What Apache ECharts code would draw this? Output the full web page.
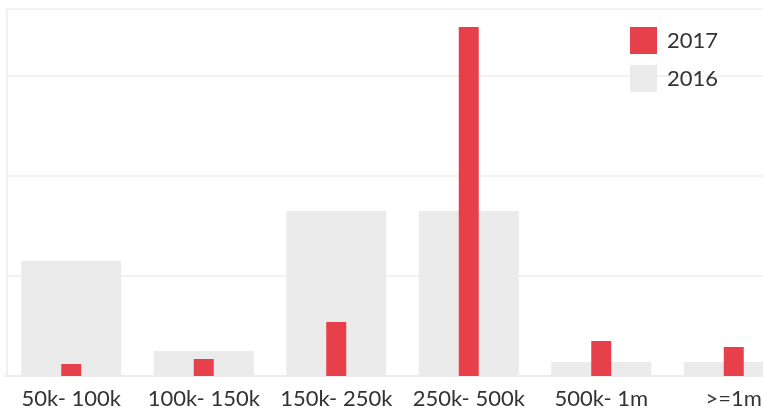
<!DOCTYPE html>
<html>
<head>
<meta charset="utf-8">
<script src="https://cdn.jsdelivr.net/npm/echarts@6/dist/echarts.min.js"></script>
<style>
  html, body { margin: 0; padding: 0; background: #fff; }
  #chart { width: 763px; height: 414px; }
</style>
</head>
<body>
<div id="chart"></div>
<script>
var categories = ['50k- 100k', '100k- 150k', '150k- 250k', '250k- 500k', '500k- 1m', '>=1m'];
var values2016 = [23, 5, 33, 33, 2.8, 2.8];
var values2017 = [2.4, 3.4, 10.8, 69.8, 7, 5.8];

var myChart = echarts.init(document.getElementById('chart'));
var option = {
    animation: false,
    textStyle: { fontFamily: 'Lato' },
    legend: {
        data: ['2017', '2016'],
        orient: 'vertical',
        left: 630,
        top: 27,
        padding: 0,
        icon: 'rect',
        itemWidth: 27,
        itemHeight: 27,
        itemGap: 11,
        itemStyle: { borderWidth: 0 },
        textStyle: { fontSize: 22, color: '#333', fontFamily: 'Lato', padding: [0, 0, 0, 5] }
    },
    grid: {
        left: 5,
        top: 9,
        width: 795,
        bottom: 38,
        containLabel: false,
        outerBoundsMode: 'none'
    },
    xAxis: [
        {
            type: 'category',
            data: categories,
            axisLine: { lineStyle: { color: '#ececec', width: 2 } },
            axisTick: { length: 9, lineStyle: { color: '#ececec', width: 2 } },
            axisLabel: { fontSize: 22, color: '#333', margin: 12, fontFamily: 'Lato', interval: 0 }
        },
        {
            type: 'category',
            data: categories,
            show: false
        }
    ],
    yAxis: {
        type: 'value',
        min: 0,
        max: 73.4,
        interval: 20,
        offset: -2,
        axisLine: { show: true, lineStyle: { color: '#f0f0f0', width: 2 } },
        axisLabel: { show: false },
        axisTick: { show: false },
        splitLine: { lineStyle: { color: '#f2f2f2', width: 2 } }
    },
    series: [
        {
            name: '2016',
            type: 'bar',
            xAxisIndex: 0,
            barWidth: 100,
            itemStyle: { color: '#ebebeb' },
            data: values2016
        },
        {
            name: '2017',
            type: 'bar',
            xAxisIndex: 1,
            barWidth: 20,
            itemStyle: { color: '#e8404a' },
            data: values2017
        }
    ]
};
myChart.setOption(option);
</script>
</body>
</html>
